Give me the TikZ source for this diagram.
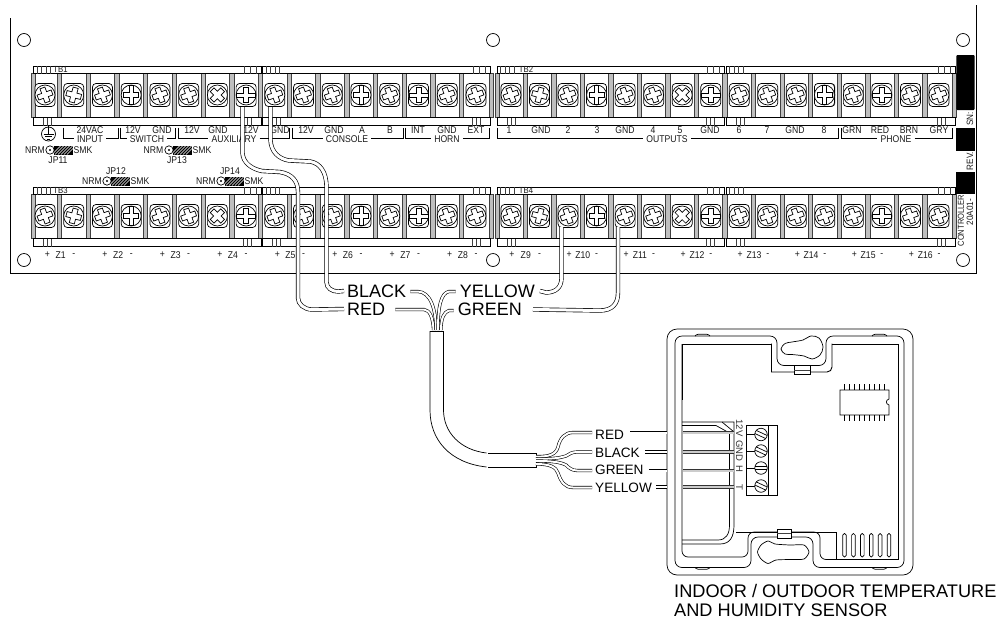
\documentclass[tikz,border=0pt]{standalone}
\usepackage{fontspec}
\setmainfont{Liberation Sans}
\newfontfamily\cad[FakeStretch=0.88]{Liberation Sans}
\newcommand\cadfont{\cad\fontsize{9.8}{9.8}\selectfont}
\newcommand\cadsmall{\cad\fontsize{9.2}{9.2}\selectfont}
\newcommand\cadtiny{\cad\fontsize{8.6}{8.6}\selectfont}
\tikzset{
  x=1pt,y=-1pt,
  ln/.style={draw=black,line width=.7pt},
  gl/.style={draw=black!75,line width=.6pt},
  lab/.style={font=\cadfont,inner sep=0pt,text=black!90},
  wire/.style={draw=black,line width=.65pt,double=white,double distance=3pt},
  thinwire/.style={draw=black,line width=.6pt,double=white,double distance=2pt},
  greywire/.style={draw=black!80,line width=.55pt,double=black!20,double distance=2pt},
  bigtxt/.style={font=\fontsize{18}{18}\selectfont,inner ysep=0pt,inner xsep=3pt},
  smalltxt/.style={font=\fontsize{13.6}{13.6}\selectfont,inner ysep=0pt,inner xsep=3pt},
  captxt/.style={font=\fontsize{18.2}{18.2}\selectfont,inner sep=0pt,anchor=base west},
  term/.style={font=\fontsize{9.5}{9.5}\selectfont,inner sep=0pt,rotate=-90,text=black!80},
}
% screw with a plus-shaped head
\newcommand\scrP[3]{\begin{scope}[shift={(#1,#2)}]
  \draw[ln,fill=white,rounded corners=3.5] (-10,-11.5) rectangle (10,11.5);
  \draw[ln,fill=white] (0,0) circle[radius=10];
  \draw[ln,fill=white,rotate=#3] (-2.6,-2.6)--(-2.6,-7.5)--(2.6,-7.5)--(2.6,-2.6)--(7.5,-2.6)--(7.5,2.6)--(2.6,2.6)--(2.6,7.5)--(-2.6,7.5)--(-2.6,2.6)--(-7.5,2.6)--(-7.5,-2.6)--cycle;
\end{scope}}
% screw with one full slot across the head
\newcommand\scrS[3]{\begin{scope}[shift={(#1,#2)}]
  \draw[ln,fill=white,rounded corners=3.5] (-10,-11.5) rectangle (10,11.5);
  \draw[ln,fill=white] (0,0) circle[radius=10];
  \draw[ln,fill=white,rotate=#3] (-2.4,-2)--(-2.4,-7.5)--(2.4,-7.5)--(2.4,-2)--(9.6,-2)--(9.6,2)--(2.4,2)--(2.4,7.5)--(-2.4,7.5)--(-2.4,2)--(-9.6,2)--(-9.6,-2)--cycle;
\end{scope}}
% terminal strip: x1, x2, y of top, label, x of label
\newcommand\strip[5]{\begin{scope}[shift={(0,#3)}]
  \draw[ln,fill=white] (#1,0) rectangle (#2,7.5);
  \draw[ln,fill=white] (#1,51.5) rectangle (#2,59.5);
  \foreach \d in {3.5,8,12.5,17}{\draw[gl] ({#1+\d},0)--({#1+\d},7.5);}
  \foreach \d in {17,11,5}{\draw[gl] ({#2-\d},0)--({#2-\d},7.5);}
  \foreach \d in {10,14,18}{\draw[gl] ({#1+\d},51.5)--({#1+\d},59.5);}
  \foreach \d in {18,14,10}{\draw[gl] ({#2-\d},51.5)--({#2-\d},59.5);}
  \node[lab,font=\cad\fontsize{8.8}{8.8}\selectfont] (lb#4) at (#5,3.8) {#4};
\end{scope}}
% jumper: x of the circle, y
\newcommand\jumper[2]{
  \draw[ln,fill=white] (#1,#2) circle[radius=4.2];
  \fill (#1,#2) circle[radius=1.2];
  \begin{scope}
    \clip (#1+4.2,#2-4.5) rectangle (#1+23,#2+4.5);
    \fill[black] (#1+4.2,#2-4.5) rectangle (#1+23,#2+4.5);
    \foreach \d in {6,9,12,15,18,21}{\draw[white,line width=.5pt] ({#1+\d-4},#2+4.5)--({#1+\d+5},#2-4.5);}
  \end{scope}}
% bracket under a group of labels: x1, x2, name, text, x of text
\newcommand\brk[5]{
  \node[lab,inner xsep=3pt] (#3) at (#5,139) {#4};
  \draw[ln] (#1,127.5)--(#1,138.7)--(#3.west |- 0,138.7);
  \draw[ln] (#3.east |- 0,138.7)--(#2,138.7)--(#2,127.5);}
\begin{document}
\begin{tikzpicture}
\useasboundingbox (0,0) rectangle (1002,619);
\fill[white] (0,0) rectangle (1002,619);
% board
\draw[ln] (10.5,18)--(10.5,273)--(976,273)--(976,5);
\foreach \cx/\cy/\nm in {24/40/ha,24/260/hb,493/40/hc,493/260/hd,963/40/he,963/260/hf}{
  \node[circle,ln,minimum size=13pt,inner sep=0pt] (\nm) at (\cx,\cy) {};}
% bodies of the terminal blocks
\foreach \ry in {73,194}{
  \draw[ln] (31,\ry)--(491,\ry) (31,\ry+44)--(491,\ry+44);
  \draw[ln] (495,\ry)--(956,\ry) (495,\ry+44)--(956,\ry+44);
  \foreach \bx in {33,491}{\draw[gl,fill=black!25] (\bx-2.2,\ry) rectangle (\bx+2.2,\ry+44);}
  \foreach \i in {0,...,14}{\pgfmathsetmacro\bx{45+28.73*(\i+.5)}
    \draw[gl,fill=black!25] (\bx-2.2,\ry) rectangle (\bx+2.2,\ry+44);}
  \foreach \bx in {497,954}{\draw[gl,fill=black!25] (\bx-2.2,\ry) rectangle (\bx+2.2,\ry+44);}
  \foreach \i in {0,...,14}{\pgfmathsetmacro\bx{511+28.53*(\i+.5)}
    \draw[gl,fill=black!25] (\bx-2.2,\ry) rectangle (\bx+2.2,\ry+44);}
}
\strip{33.5}{261}{66}{TB1}{60.5}
\strip{262.7}{490.7}{66}{}{300}
\strip{497}{724.3}{66}{TB2}{526}
\strip{726}{955}{66}{}{760}
\strip{33.5}{261}{187}{TB3}{60.5}
\strip{262.7}{490.7}{187}{}{300}
\strip{497}{724.3}{187}{TB4}{526}
\strip{726}{955}{187}{}{760}
% screws
\foreach \ry in {95,216}{
  \foreach[count=\i from 0] \a/\kind in {20/P,75/P,20/P,90/S,20/P,20/P,45/P,0/S,20/P,20/P,20/P,90/S,20/P,0/S,20/P,20/P}{
    \pgfmathsetmacro\xx{45+28.73*\i}\csname scr\kind\endcsname{\xx}{\ry}{\a}}
  \foreach[count=\i from 0] \a/\kind in {20/P,75/P,20/P,90/S,20/P,20/P,45/P,0/S,20/P,20/P,20/P,20/P,20/P,0/S,20/P,20/P}{
    \pgfmathsetmacro\xx{511+28.53*\i}\csname scr\kind\endcsname{\xx}{\ry}{\a}}
}
\scrS{824.4}{95}{90}
% upper labels
\foreach[count=\n] \lx/\ltext in {133/12V,162/GND,192/12V,218/GND,251/12V,280/GND,306/12V,334/GND,362/A,390/B,418/INT,447/GND,476/EXT,509/1,541/GND,568/2,597/3,625/GND,653/4,680/5,710/GND,739/6,767/7,795/GND,824/8,852/GRN,880/RED,909/BRN,939/GRY}{
  \node[lab] (top\n) at (\lx,130.2) {\ltext};}
\node[lab] (vac) at (90,130.2) {24VAC};
% ground symbol
\node[circle,ln,minimum size=14pt,inner sep=0pt] (gnd) at (48.5,134) {};
\draw[ln] (48.5,125)--(48.5,134) (43.5,134)--(53.5,134) (45,136.5)--(52,136.5) (47,139)--(50,139);
\brk{63}{118}{inp}{INPUT}{90}
\brk{120}{175}{swi}{SWITCH}{147}
\brk{178}{289}{aux}{AUXILIARY}{234}
\brk{292}{403}{con}{CONSOLE}{347}
\brk{405.7}{489}{hrn}{HORN}{447}
\brk{497}{838}{out}{OUTPUTS}{667}
\brk{841}{952}{pho}{PHONE}{896}
% jumpers
\foreach \jx/\jy/\nx/\sx/\lx/\ly/\nm in {50/150/35/83/58/160/JP11,169/150/153.5/202/177/160/JP13,107/181/92/140/116/171/JP12,221/181/206/254/230/171/JP14}{
  \jumper{\jx}{\jy}
  \node[lab] (n\nm) at (\nx,\jy) {NRM};
  \node[lab] (s\nm) at (\sx,\jy) {SMK};
  \node[lab] (l\nm) at (\lx,\ly) {\nm};
}
% zone labels
\foreach \n in {1,...,8}{
  \pgfmathsetmacro\xa{45+28.73*(2*\n-2)+2.5}\pgfmathsetmacro\xb{45+28.73*(2*\n-1)}
  \node[lab] (pz\n) at (\xa,255) {+};
  \node[lab] (mz\n) at (\xb,255) {-};
  \node[lab] (z\n) at ({(\xa+\xb)/2},255) {Z\n};}
\foreach \n in {9,...,16}{
  \pgfmathsetmacro\xa{511+28.53*(2*\n-18)+1}\pgfmathsetmacro\xb{511+28.53*(2*\n-17)}
  \node[lab] (pz\n) at (\xa,255) {+};
  \node[lab] (mz\n) at (\xb,255) {-};
  \node[lab] (z\n) at ({(\xa+\xb)/2},255) {Z\n};}
% identification panels
\fill[black,rounded corners=1] (956.3,55) rectangle (974.7,110);
\fill[black] (956.3,128) rectangle (974.7,151);
\fill[black] (956.3,172) rectangle (974.7,194);
\node[lab,rotate=90,font=\cadsmall] (sn) at (970,119) {SN:};
\node[lab,rotate=90,font=\cadsmall] (rev) at (970,161) {REV.};
\node[lab,rotate=90,font=\cadtiny] (ctl) at (961,220.5) {CONTROLLER};
\node[lab,rotate=90,font=\cadsmall] (mdl) at (970,212) {20A01-};
% sensor enclosure
\draw[ln,rounded corners=10] (700,329)--(913,329)--(913,575)--(667,575)--(667,329)--cycle;
\draw[ln,rounded corners=7] (720,336)--(777,336)--(777,365.5)--(826,365.5)--(826,336)--(904,336)--(904,567.5)--(813,567.5)--(813,537)--(751,537)--(751,567.5)--(675,567.5)--(675,336)--cycle;
\draw[ln,rounded corners=1] (695,336)--(697,334.3)--(708,334.3)--(710,336);
\draw[ln,rounded corners=1] (872,336)--(874,334.3)--(885,334.3)--(887,336);
\draw[ln,rounded corners=1] (695,567.5)--(697,569.2)--(708,569.2)--(710,567.5);
\draw[ln,rounded corners=1] (872,567.5)--(874,569.2)--(885,569.2)--(887,567.5);
\draw[ln,line width=.9pt] (771.5,344)--(682,344)--(682,400);
\draw[ln,line width=.9pt] (771.5,343.5)--(771.5,372) [rounded corners=5] --(832,372)--(832,343.5);
\draw[ln,line width=.9pt] (832,344)--(898,344)--(898,559.5)--(826,559.5);
\draw[ln,rounded corners=6] (826,559.5)--(820,559.5)--(820,532)--(748,532)--(748,557)--(682,557)--(682,344);
\draw[ln] (736,532)--(836,532)--(836,559.5);
% tabs
\draw[ln,fill=white] (794,365.5) rectangle (810,374);
\draw[gl] (794,370)--(810,370);
\draw[ln,fill=white] (777,529) rectangle (791,538);
\draw[gl] (777,533.5)--(791,533.5);
% key holes
\draw[ln,fill=white] plot[smooth cycle,tension=.55] coordinates {(781,349)(785,343.5)(792,342)(803,340)(811,336)(819,338)(823,347)(820,355)(812,359)(804,356)(792,354.5)(785,354)};
\draw[ln,fill=white] plot[smooth cycle,tension=.4] coordinates {(757.5,552)(761,545)(768,541)(775,544)(790,545)(804,545)(809,552)(804,559)(790,559.5)(776,560)(768,563.5)(761,559)};
% inner board partitions
\draw[ln] (682,422)--(722,422)--(734,422)--(734,525) .. controls (734,537) and (730,544) .. (720,544)--(682,544);
\draw[ln] (682,425.5)--(716,425.5)--(729.5,433)--(729.5,525) .. controls (729.5,534) and (726,540) .. (718,540)--(682,540);
\draw[ln] (722,422)--(733.5,431.5);
% chip
\draw[ln,fill=white] (840,390)--(889,390)--(889,399) .. controls (885.5,400) and (885.5,404) .. (889,405)--(889,415)--(840,415)--cycle;
\foreach \i in {0,...,8}{\draw[ln] ({844+5*\i},384)--({844+5*\i},390) ({844+5*\i},415)--({844+5*\i},421);}
% vents
\foreach \vx in {844.5,853.4,862.3,871.2,880.1,889}{
  \draw[ln,rounded corners=1.7] (\vx-1.8,533.5) rectangle (\vx+1.8,557);}
% terminal block of the sensor
\draw[ln,fill=white] (746,425) rectangle (777,495);
\draw[ln] (768,425)--(768,495);
\foreach \ty/\ta/\nm in {434.5/65/ta,451/65/tb,468/90/tc,486/65/td}{
  \draw[ln] (746,\ty)--(755,\ty);
  \node[circle,ln,fill=white,minimum size=12.5pt,inner sep=0pt] (\nm) at (761,\ty) {};
  \draw[ln,rotate around={\ta:(761,\ty)}] (761-1.7,\ty-6)--(761-1.7,\ty+6) (761+1.7,\ty-6)--(761+1.7,\ty+6);
}
\node[term] (t12) at (739.5,428) {12V};
\node[term] (tgnd) at (739.5,451) {GND};
\node[term] (th) at (739.5,469) {H};
\node[term] (tt) at (739.5,487) {T};
% labels of the wires
\node[bigtxt,anchor=west] (redT) at (344,309) {RED};
\node[bigtxt,anchor=west] (blackT) at (344,291) {BLACK};
\node[bigtxt,anchor=east] (yellowT) at (538,291) {YELLOW};
\node[bigtxt,anchor=east] (greenT) at (525,309.5) {GREEN};
\node[smalltxt,anchor=west] (redS) at (592,435) {RED};
\node[smalltxt,anchor=west] (blackS) at (592,452.5) {BLACK};
\node[smalltxt,anchor=west] (greenS) at (592,470) {GREEN};
\node[smalltxt,anchor=west] (yellowS) at (592,487.5) {YELLOW};
% wire ends
\coordinate (scrRed) at (242.5,107);
\coordinate (scrBlack) at (270.5,107);
\coordinate (scrYellow) at (561.5,227);
\coordinate (scrGreen) at (618,227);
\coordinate (cabTa) at (433.5,330);\coordinate (cabTb) at (436,330);
\coordinate (cabTc) at (438,330);\coordinate (cabTd) at (441,330);
\coordinate (cabSa) at (536,456.5);\coordinate (cabSb) at (536,459);
\coordinate (cabSc) at (536,461);\coordinate (cabSd) at (536,464);
\coordinate (brdR) at (667,432.5);\coordinate (brdB) at (667,452);
\coordinate (brdG) at (667,470.5);\coordinate (brdY) at (667,487);
% wires to the controller
\draw[wire] (scrRed)--(242.5,153) .. controls (243,163) and (252,169) .. (262,171)--(280,172) .. controls (292,174) and (298,181) .. (298,192)--(298,298) .. controls (298,304) and (304,309.5) .. (312,309.5)--(redT.west);
\draw[wire] (scrBlack)--(270.5,140) .. controls (271,152) and (279,159) .. (289,160.5)--(310,161.5) .. controls (320,163) and (326.5,172) .. (326.5,187)--(326.5,282) .. controls (326.5,288) and (332,291.5) .. (338,291.5)--(blackT.west);
\draw[wire] (scrYellow)--(561.5,278) .. controls (561.5,288) and (555,292.5) .. (546,292.5)--([xshift=2]yellowT.east);
\draw[wire] (scrGreen)--(618,293) .. controls (618,304) and (612,310.5) .. (600,310.5)--([xshift=8]greenT.east);
% four wires into the cable
\draw[thinwire] ([xshift=7]redT.east |- 0,309.5)--(424,309.5) .. controls (430,310) and (433,318) .. (cabTa);
\draw[thinwire] ([xshift=1]blackT.east |- 0,291.5)--(418,291.5) .. controls (430,292) and (436,308) .. (cabTb);
\draw[thinwire] ([xshift=-1]yellowT.west |- 0,291.5)--(449,291.5) .. controls (441,293) and (438,306) .. (cabTc);
\draw[thinwire] ([xshift=-1]greenT.west |- 0,310.5)--(449,310.5) .. controls (444,312) and (441,318) .. (cabTd);
% cable
\draw[ln] (430,331)--(443.5,331);
\draw[ln] (430,331)--(430,410) .. controls (430,440) and (450,463) .. (486.5,467);
\draw[ln] (443.5,331)--(443.5,410) .. controls (443.5,432) and (460,450) .. (486.5,453);
\draw[ln] (488,453)--(536,453)--(536,467)--(488,467);
% four wires out of the cable
\draw[thinwire] (cabSa) .. controls (550,457) and (556,454) .. (558,447) .. controls (560,438) and (565,432.5) .. (573,432.5)--(redS.west |- 0,432.5);
\draw[thinwire] (cabSb) .. controls (552,459) and (560,458) .. (566,456) .. controls (569,454) and (572,452) .. (577,452)--(blackS.west |- 0,452);
\draw[thinwire] (cabSc) .. controls (552,461) and (560,462) .. (566,465) .. controls (569,468) and (572,470.5) .. (577,470.5)--(greenS.west |- 0,470.5);
\draw[thinwire] (cabSd) .. controls (550,464) and (556,467) .. (558,473) .. controls (561,482) and (565,487.5) .. (573,487.5)--(yellowS.west |- 0,487.5);
% wires on to the sensor
\draw[thinwire] ([xshift=3]redS.east |- 0,432.5)--(brdR);
\draw[thinwire] ([xshift=2]blackS.east |- 0,452)--(brdB);
\draw[thinwire] ([xshift=2]greenS.east |- 0,470.5)--(brdG);
\draw[thinwire] ([xshift=1]yellowS.east |- 0,487)--(brdY);
\foreach \wy/\nm in {432.5/ia,452/ib,470.5/ic,487/id}{
  \coordinate (\nm) at (683,\wy);
  \coordinate (\nm e) at (734,\wy);
  \draw[greywire] (\nm)--(\nm e);}
% caption
\node[captxt] (capa) at (674,597) {INDOOR / OUTDOOR TEMPERATURE};
\node[captxt] (capb) at (674,616) {AND HUMIDITY SENSOR};
\end{tikzpicture}
\end{document}
